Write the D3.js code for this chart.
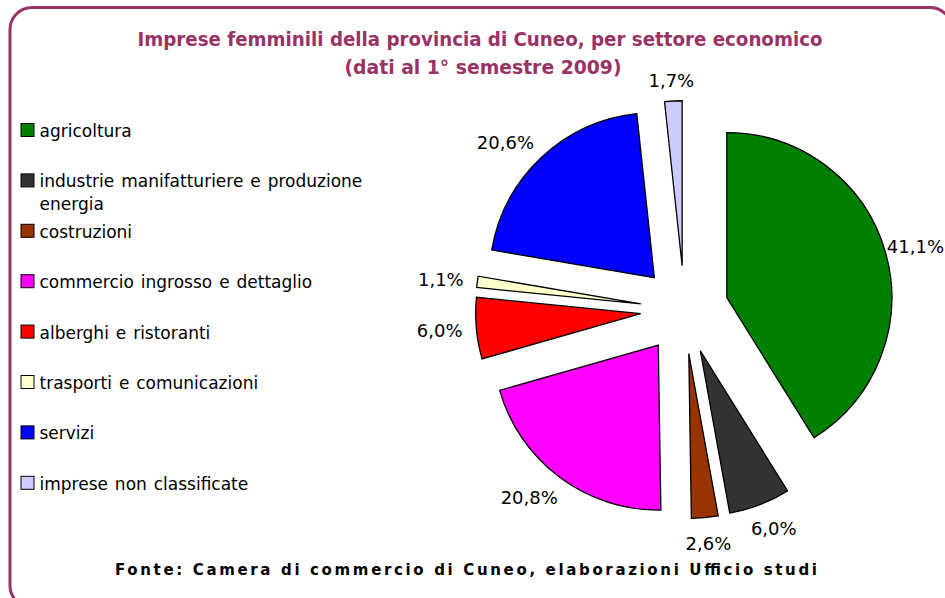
<!DOCTYPE html>
<html><head><meta charset="utf-8">
<script src="https://cdn.jsdelivr.net/npm/d3@7"></script>
<style>body{margin:0;background:#fff;overflow:hidden;} svg{display:block;}</style>
</head><body>
<svg id="chart" width="945" height="598"></svg>
<script>
// ---- data ----
const categories = [
  "agricoltura",
  "industrie manifatturiere e produzione energia",
  "costruzioni",
  "commercio ingrosso e dettaglio",
  "alberghi e ristoranti",
  "trasporti e comunicazioni",
  "servizi",
  "imprese non classificate"
];
const shares = [41.1, 6.0, 2.6, 20.8, 6.0, 1.1, 20.6, 1.7];
const sliceColors = ["#008000","#333333","#993300","#FF00FF","#FF0000","#FFFFCC","#0000FF","#CCCCFF"];
const legendLines = [
  ["agricoltura"],
  ["industrie manifatturiere e produzione","energia"],
  ["costruzioni"],
  ["commercio ingrosso e dettaglio"],
  ["alberghi e ristoranti"],
  ["trasporti e comunicazioni"],
  ["servizi"],
  ["imprese non classificate"]
];
const titleLines = ["Imprese femminili della provincia di Cuneo, per settore economico","(dati al 1° semestre 2009)"];
const sourceText = "Fonte: Camera di commercio di Cuneo, elaborazioni Ufficio studi";

// ---- drawing ----
const svg = d3.select("#chart");
const W = 945;
const accent = "#993366";

svg.append("rect").attr("x",10).attr("y",7.5).attr("width",942).attr("height",600)
  .attr("rx",22).attr("ry",22).attr("fill","#fff").attr("stroke",accent).attr("stroke-width",3);

// title
const title = svg.append("g").attr("font-family","'DejaVu Sans Condensed','DejaVu Sans',sans-serif")
  .attr("font-weight","bold").attr("font-size",19.5).attr("fill",accent).attr("text-anchor","middle");
title.append("text").attr("x",480).attr("y",46).attr("textLength",685).attr("lengthAdjust","spacingAndGlyphs").text(titleLines[0]);
title.append("text").attr("x",483).attr("y",74).attr("textLength",277).attr("lengthAdjust","spacingAndGlyphs").text(titleLines[1]);

// source
svg.append("text").attr("x",115).attr("y",575).attr("font-family","'DejaVu Sans',sans-serif")
  .attr("font-weight","bold").attr("font-size",15).attr("fill","#000")
  .attr("textLength",702).attr("lengthAdjust","spacing").text(sourceText);

// legend
const rowY = d3.scaleLinear().domain([0, categories.length-1]).range([137, 137 + 50.4*(categories.length-1)]);
const legend = svg.append("g").attr("font-family","'DejaVu Sans',sans-serif").attr("font-size",17)
  .attr("word-spacing",1.5).attr("fill","#000");
categories.forEach((c,i)=>{
  const y = rowY(i);
  legend.append("rect").attr("x",21).attr("y",y-13.5).attr("width",13).attr("height",13)
    .attr("fill",sliceColors[i]).attr("stroke","#000").attr("stroke-width",1);
  legendLines[i].forEach((ln,j)=>{
    legend.append("text").attr("x",39.5).attr("y",y + j*22.5).text(ln);
  });
});

// pie
const cx = 684.5, cy = 309.7, R = 165, explode = 44, gap = 14;
const pie = d3.pie().sort(null).value(d=>d).startAngle(0).endAngle(2*Math.PI);
const arcs = pie(shares);
const arc = d3.arc().innerRadius(0).outerRadius(R);
const fmt = d3.formatLocale({decimal:",",thousands:".",grouping:[3],currency:["","€"]}).format(".1f");

const pg = svg.append("g").attr("transform",`translate(${cx},${cy})`);
arcs.forEach((a,i)=>{
  const mid = (a.startAngle + a.endAngle)/2;
  const dx = Math.sin(mid)*explode, dy = -Math.cos(mid)*explode;
  pg.append("path").attr("d",arc(a)).attr("transform",`translate(${dx},${dy})`)
    .attr("fill",sliceColors[i]).attr("stroke","#000").attr("stroke-width",1.3).attr("stroke-linejoin","miter");
});
const lg = svg.append("g").attr("font-family","'DejaVu Sans',sans-serif").attr("font-size",18).attr("fill","#000");
arcs.forEach((a,i)=>{
  const mid = (a.startAngle + a.endAngle)/2;
  const s = Math.sin(mid), c = -Math.cos(mid);
  const t = lg.append("text").attr("text-anchor","middle").attr("dy","0.36em").text(fmt(a.data)+"%");
  const w = t.node().getBBox().width, h = 14 + 10*Math.max(0,c);
  const wf = 1 + 1.5*Math.max(0, Math.abs(s*c) - 0.27);
  const rr = R + explode + gap;
  const x = Math.min(cx + rr*s + s*w/2*wf, W - 1 - w/2);
  t.attr("x", x).attr("y", cy + rr*c + c*h/2);
});
</script>
</body></html>
